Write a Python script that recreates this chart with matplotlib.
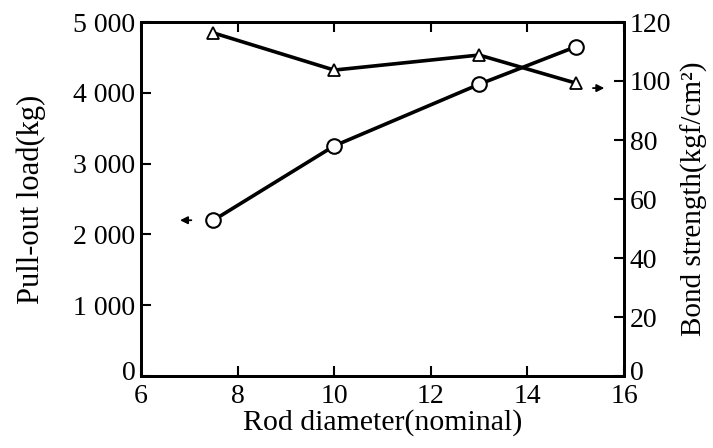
import matplotlib
matplotlib.use("Agg")
import matplotlib.pyplot as plt
import matplotlib.transforms as mtransforms
from matplotlib.ticker import FuncFormatter

plt.rcParams['font.family'] = ['Liberation Serif', 'DejaVu Serif']

diameter = [7.5, 10, 13, 15]
pullout_load = [2200, 3250, 4120, 4650]
bond_strength = [116.3, 103.7, 108.8, 99.3]

x_ticks = [6, 8, 10, 12, 14, 16]
left_ticks = [0, 1000, 2000, 3000, 4000, 5000]
right_ticks = [0, 20, 40, 60, 80, 100, 120]

fig = plt.figure(figsize=(7.13, 4.48), dpi=100)
ax = fig.add_axes([141/713, 1-376/448, (624-141)/713, (376-22)/448])
ax2 = ax.twinx()

ax.plot(diameter, pullout_load, color='black', lw=2.6, marker='o', ms=10.5,
        mfc='white', mec='black', mew=1.5, zorder=3)
ax2.plot(diameter, bond_strength, color='black', lw=2.6, marker='^', ms=8,
         mfc='white', mec='black', mew=1.3, zorder=3)

ax.set_xlim(6, 16)
ax.set_ylim(0, 5000)
ax2.set_ylim(0, 120)
ax.set_xticks(x_ticks)
ax.set_yticks(left_ticks)
ax2.set_yticks(right_ticks)

fmt = FuncFormatter(lambda v, p: f"{int(v):,}".replace(",", " "))
ax.yaxis.set_major_formatter(fmt)

for a in (ax, ax2):
    for s in a.spines.values():
        s.set_linewidth(2)
ax.tick_params(axis='x', direction='in', top=True, length=7, width=1.5,
               labelsize=20, pad=6)
ax.tick_params(axis='y', direction='in', length=7, width=1.5, labelsize=20, pad=4)
ax2.tick_params(axis='y', direction='in', length=7, width=1.5, labelsize=20, pad=4)

# lift the zero labels slightly like the reference
fig.canvas.draw()
lift = mtransforms.ScaledTranslation(0, 4/72, fig.dpi_scale_trans)
for t in (ax.yaxis.get_major_ticks()[0], ax2.yaxis.get_major_ticks()[0]):
    for lbl in (t.label1, t.label2):
        lbl.set_transform(lbl.get_transform() + lift)

ax.set_xlabel("Rod diameter(nominal)", fontsize=21.5, labelpad=0)
ax.set_ylabel("Pull-out load(kg)", fontsize=22, labelpad=20)
ax2.set_ylabel("Bond strength(kgf/cm²)", fontsize=21, labelpad=7)

# direction arrows
ax.annotate("", xy=(6.75, 2200), xytext=(7.1, 2200),
            arrowprops=dict(arrowstyle='-|>', color='black', lw=1.3,
                            mutation_scale=11))
ax2.annotate("", xy=(15.65, 97.6), xytext=(15.3, 97.6),
             arrowprops=dict(arrowstyle='-|>', color='black', lw=1.3,
                             mutation_scale=11))

fig.savefig("out.png", dpi=100)
